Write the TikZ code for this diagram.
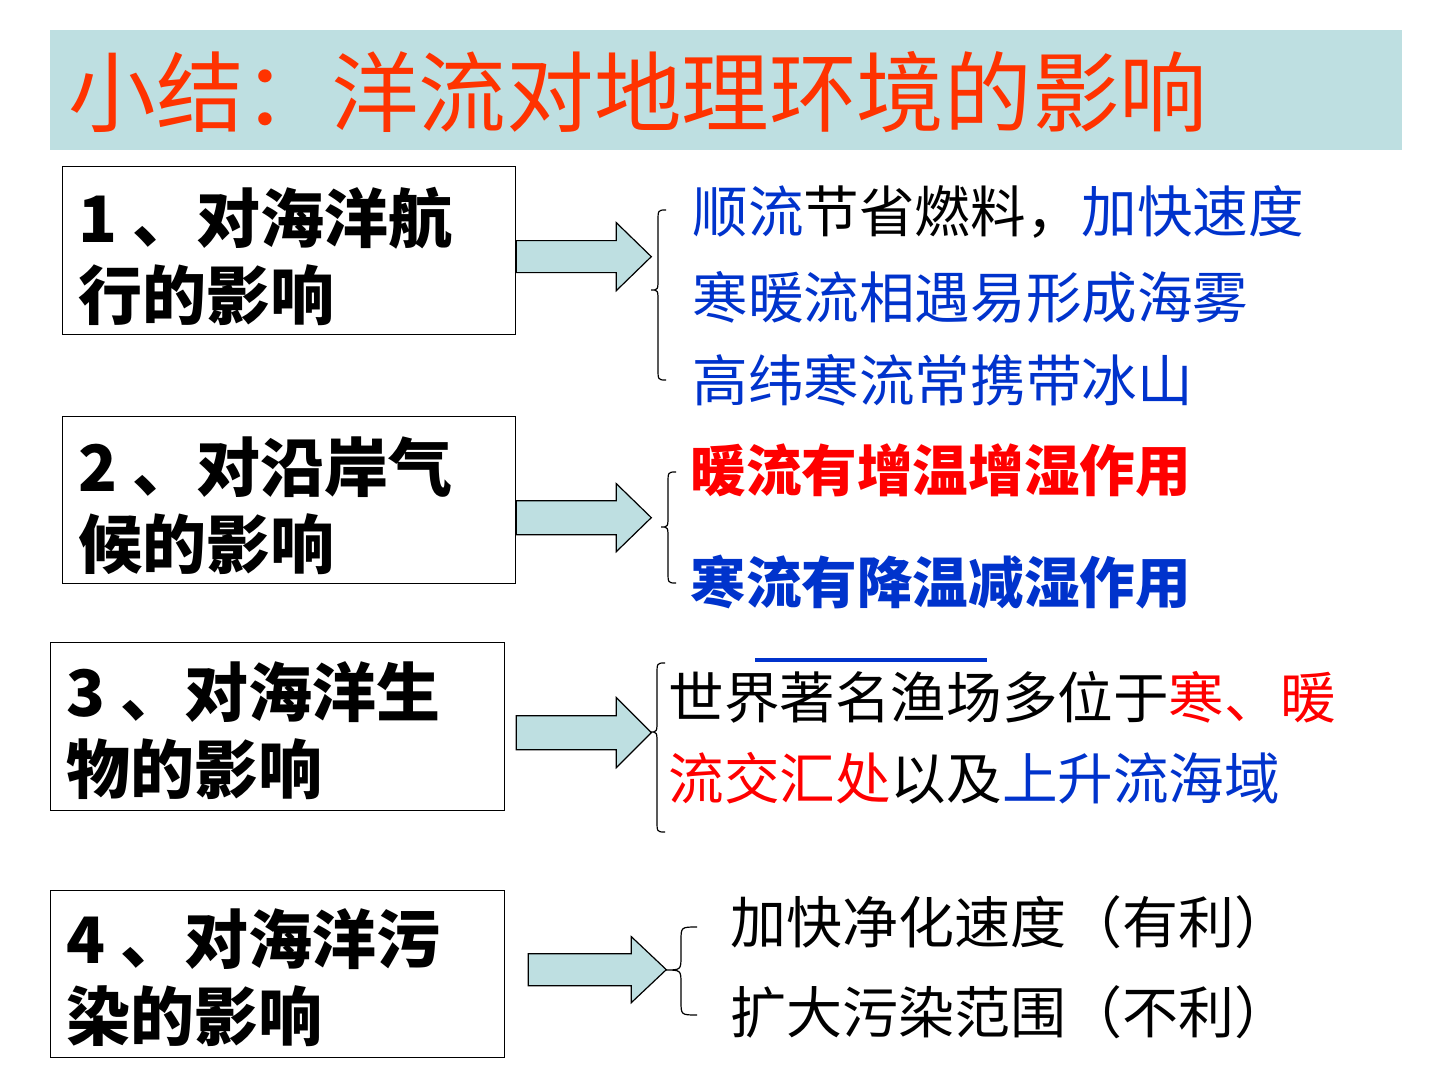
\documentclass[tikz,border=0pt]{standalone}
\usepackage{fontspec}
\setmainfont{Noto Sans CJK SC}
\usetikzlibrary{calc}
\definecolor{barfill}{HTML}{BEDFE1}
\definecolor{ttlred}{HTML}{FF3300}
\definecolor{cblue}{HTML}{0033CC}
\definecolor{cred}{HTML}{FF0000}
\newcommand\blkarrow[5]{\filldraw[arrowshape] (#1) ++(0,-#4) -- ++(#2,0) -- ++(0,#4-#5) -- ++(#3,#5) -- ++(-#3,#5) -- ++(0,#4-#5) -- ++(-#2,0) -- cycle;}
\newcommand\bracepath[7]{\draw[braceline] (#3,#4) .. controls (#2,#4) .. (#2,#4+#7) -- (#2,#5-#7) .. controls (#2,#5) .. (#1,#5) .. controls (#2,#5) .. (#2,#5+#7) -- (#2,#6-#7) .. controls (#2,#6) .. (#3,#6);}
\begin{document}
\begin{tikzpicture}[x=0.5pt,y=-0.5pt,
  box/.style={draw=black,line width=0.65pt,fill=white,anchor=north west,inner sep=0pt},
  boxtext/.style={anchor=west,inner sep=0pt,align=left,font=\fontsize{32}{38.5}\selectfont\bfseries},
  rtext/.style={anchor=west,inner sep=0pt,font=\fontsize{27.8}{33}\selectfont},
  arrowshape/.style={fill=barfill,draw=black,line width=0.6pt,line join=miter},
  braceline/.style={draw=black,line width=0.6pt}]
\useasboundingbox (0,0) rectangle (1440,1080);
\fill[white] (0,0) rectangle (1440,1080);
% title
\node[fill=barfill,anchor=north west,minimum width=676pt,minimum height=60pt,inner sep=0pt] (bar) at (50,30) {};
\node[anchor=west,inner sep=0pt,text=ttlred,font=\fontsize{43.8}{50}\selectfont] (title) at (68,92) {小结：洋流对地理环境的影响};
% boxes
\node[box,minimum width=226.5pt,minimum height=84pt] (b1) at (62,166) {};
\node[boxtext] (t1) at (78,256) {1 、对海洋航\\行的影响};
\node[box,minimum width=226.5pt,minimum height=83.5pt] (b2) at (62,416) {};
\node[boxtext] (t2) at (78,506) {2 、对沿岸气\\候的影响};
\node[box,minimum width=227pt,minimum height=84pt] (b3) at (50,642) {};
\node[boxtext] (t3) at (66,731) {3 、对海洋生\\物的影响};
\node[box,minimum width=227pt,minimum height=83.5pt] (b4) at (50,890) {};
\node[boxtext] (t4) at (66,978) {4 、对海洋污\\染的影响};
% arrows
\coordinate (a1) at ($(b1.east)+(0,6)$);
\coordinate (a2) at ($(b2.east)+(0,17.5)$);
\coordinate (a3) at ($(b3.east)+(11,6)$);
\coordinate (a4) at ($(b4.east)+(23,-4.5)$);
\blkarrow{a1}{100}{35}{16}{34}
\blkarrow{a2}{100}{35}{17}{34}
\blkarrow{a3}{100}{35}{17}{35}
\blkarrow{a4}{103}{35}{16}{33}
% braces
\bracepath{651}{658}{666}{210}{290}{380}{12}
\bracepath{661}{668}{676}{472}{527}{583}{12}
\bracepath{650}{657}{665}{663}{732}{832}{12}
\bracepath{665}{681}{697}{927}{970}{1015}{14}
% group 1
\node[rtext] (g1a) at (692,212) {{\color{cblue}顺流}节省燃料，{\color{cblue}加快速度}};
\node[rtext,text=cblue] (g1b) at (692,297) {寒暖流相遇易形成海雾};
\node[rtext,text=cblue] (g1c) at (692,380) {高纬寒流常携带冰山};
% group 2
\node[rtext,text=cred,font=\fontsize{27.8}{33}\selectfont\bfseries] (g2a) at (690,470) {暖流有增温增湿作用};
\node[rtext,text=cblue,font=\fontsize{27.8}{33}\selectfont\bfseries] (g2b) at (690,582) {寒流有降温减湿作用};
% group 3
\draw[cblue,line width=1.6pt] (755,660) -- (987,660);
\node[rtext] (g3a) at (668,697) {世界著名渔场多位于{\color{cred}寒、暖}};
\node[rtext] (g3b) at (668,778) {{\color{cred}流交汇处}以及{\color{cblue}上升流海域}};
% group 4
\node[rtext,font=\fontsize{28}{33}\selectfont] (g4a) at (730,922) {加快净化速度（有利）};
\node[rtext,font=\fontsize{28}{33}\selectfont] (g4b) at (730,1012) {扩大污染范围（不利）};
\end{tikzpicture}
\end{document}
